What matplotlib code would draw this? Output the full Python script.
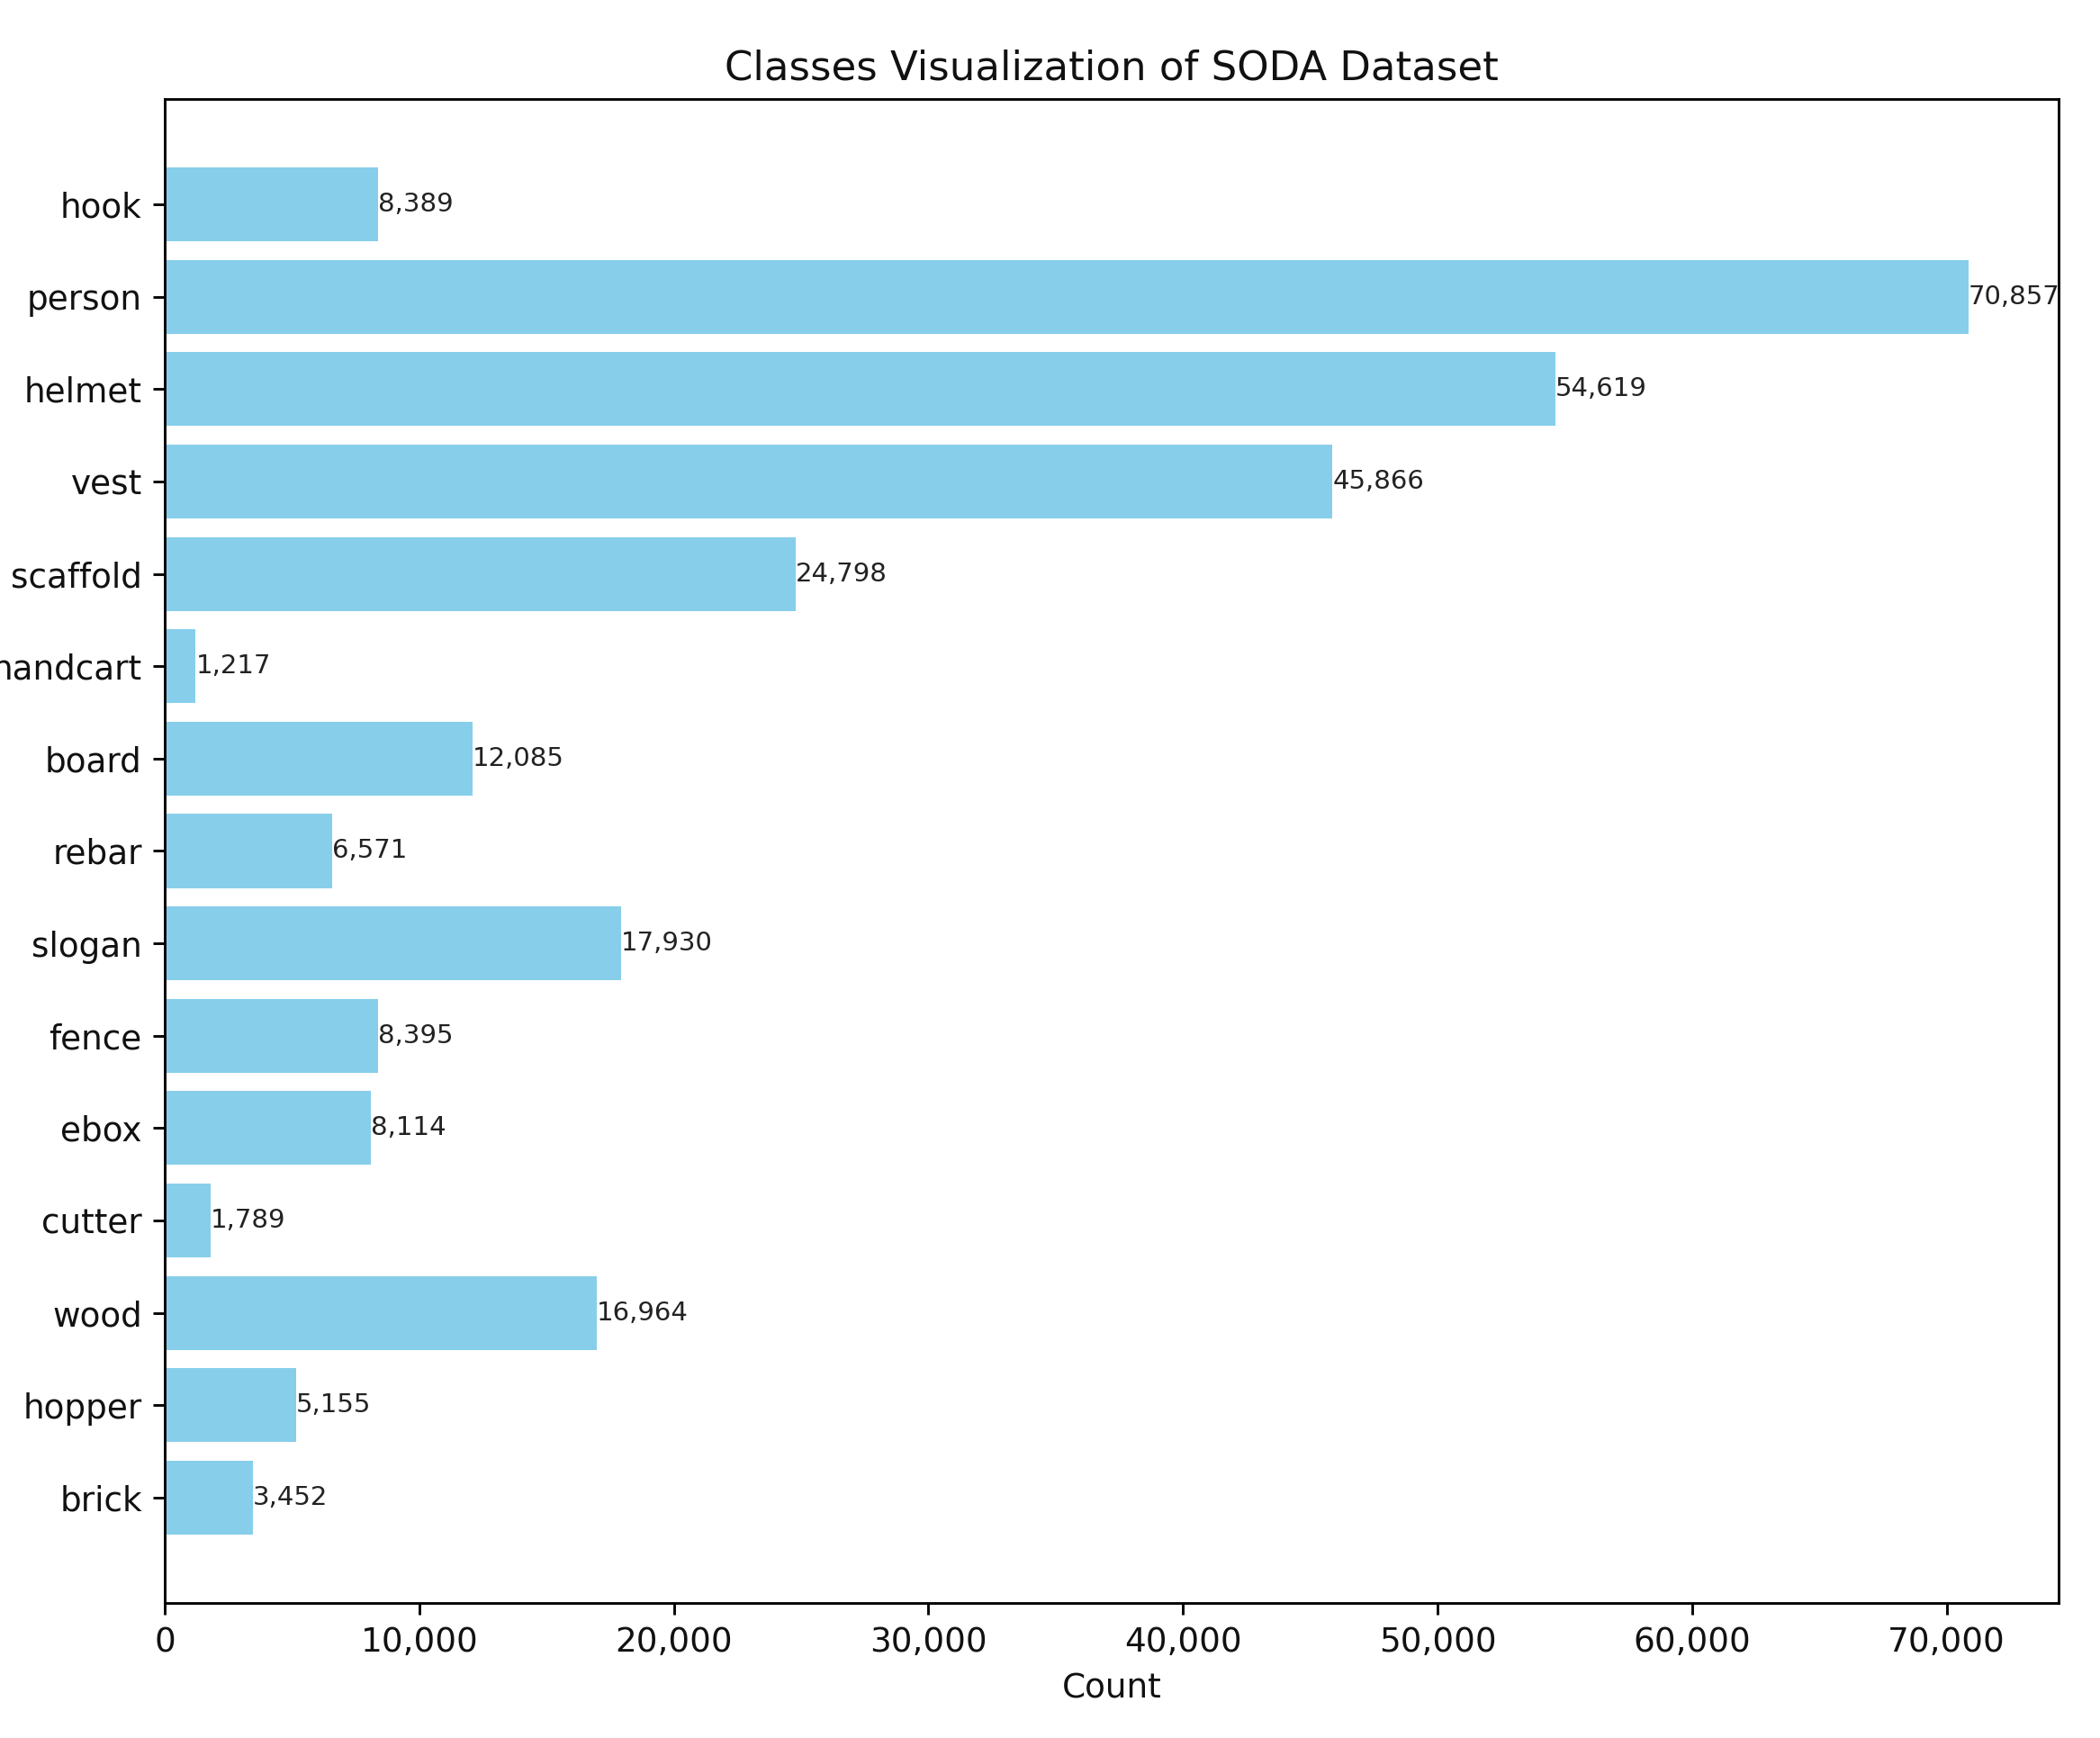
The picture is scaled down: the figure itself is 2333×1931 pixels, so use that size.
import matplotlib
matplotlib.use("Agg")
import matplotlib.pyplot as plt
from matplotlib.ticker import FuncFormatter

categories = ["hook", "person", "helmet", "vest", "scaffold", "handcart", "board",
              "rebar", "slogan", "fence", "ebox", "cutter", "wood", "hopper", "brick"]
counts = [8389, 70857, 54619, 45866, 24798, 1217, 12085, 6571, 17930, 8395,
          8114, 1789, 16964, 5155, 3452]

DPI = 259
fig = plt.figure(figsize=(2333 / DPI, 1931 / DPI), dpi=DPI)
ax = fig.add_axes([183 / 2333, 150 / 1931, (2287 - 183) / 2333, (1781 - 110) / 1931])

bars = ax.barh(categories, counts, color="skyblue")
ax.invert_yaxis()
ax.bar_label(bars, labels=[f"{c:,}" for c in counts], fontsize=8.1, color="#222222")

ax.xaxis.set_major_formatter(FuncFormatter(lambda v, p: f"{int(v):,}"))
ax.tick_params(axis="both", labelsize=10.4, labelcolor="#111111")
ax.set_xlabel("Count", fontsize=10.4, color="#111111")
ax.set_title("Classes Visualization of SODA Dataset", fontsize=12.5, color="#111111")

fig.savefig("out.png", dpi=DPI)
